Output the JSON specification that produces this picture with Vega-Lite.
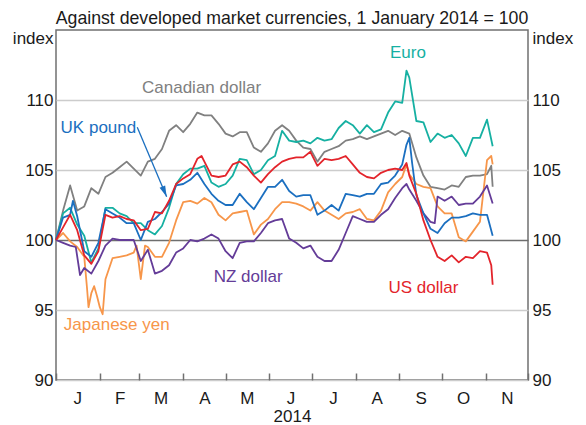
{
  "$schema": "https://vega.github.io/schema/vega-lite/v6.json",
  "width": 472,
  "height": 350,
  "autosize": {"type": "none"},
  "padding": {"left": 56, "top": 30, "right": 58, "bottom": 45},
  "background": "white",
  "title": {"text": "Against developed market currencies, 1 January 2014 = 100", "font": "Liberation Sans", "fontSize": 17.7, "fontWeight": "normal", "color": "#1a1a1a", "anchor": "middle", "frame": "group", "offset": 7, "dy": 19, "baseline": "alphabetic"},
  "config": {
    "view": {"stroke": "#707070", "strokeWidth": 1.5},
    "axis": {"labelFont": "Liberation Sans", "titleFont": "Liberation Sans", "labelFontSize": 17, "titleFontSize": 17, "labelColor": "#1a1a1a", "titleColor": "#1a1a1a", "titleFontWeight": "normal"},
    "text": {"font": "Liberation Sans"}
  },
  "datasets": {
    "fx": [
      {"s":"Canadian dollar","d":"2014/01/01","v":100.0},{"s":"Canadian dollar","d":"2014/01/06","v":102.1},{"s":"Canadian dollar","d":"2014/01/11","v":103.9},{"s":"Canadian dollar","d":"2014/01/16","v":102.1},{"s":"Canadian dollar","d":"2014/01/21","v":102.4},{"s":"Canadian dollar","d":"2014/01/26","v":103.7},{"s":"Canadian dollar","d":"2014/01/31","v":103.3},{"s":"Canadian dollar","d":"2014/02/05","v":104.5},{"s":"Canadian dollar","d":"2014/02/10","v":104.8},{"s":"Canadian dollar","d":"2014/02/15","v":105.2},{"s":"Canadian dollar","d":"2014/02/20","v":105.6},{"s":"Canadian dollar","d":"2014/02/25","v":105.1},{"s":"Canadian dollar","d":"2014/03/02","v":104.6},{"s":"Canadian dollar","d":"2014/03/07","v":105.6},{"s":"Canadian dollar","d":"2014/03/12","v":105.8},{"s":"Canadian dollar","d":"2014/03/17","v":106.5},{"s":"Canadian dollar","d":"2014/03/22","v":107.8},{"s":"Canadian dollar","d":"2014/03/27","v":108.2},{"s":"Canadian dollar","d":"2014/04/01","v":107.7},{"s":"Canadian dollar","d":"2014/04/06","v":108.3},{"s":"Canadian dollar","d":"2014/04/11","v":109.1},{"s":"Canadian dollar","d":"2014/04/16","v":108.9},{"s":"Canadian dollar","d":"2014/04/21","v":108.9},{"s":"Canadian dollar","d":"2014/04/26","v":108.3},{"s":"Canadian dollar","d":"2014/05/01","v":107.6},{"s":"Canadian dollar","d":"2014/05/06","v":107.4},{"s":"Canadian dollar","d":"2014/05/11","v":107.7},{"s":"Canadian dollar","d":"2014/05/16","v":107.7},{"s":"Canadian dollar","d":"2014/05/21","v":106.6},{"s":"Canadian dollar","d":"2014/05/26","v":106.3},{"s":"Canadian dollar","d":"2014/05/31","v":106.9},{"s":"Canadian dollar","d":"2014/06/05","v":107.8},{"s":"Canadian dollar","d":"2014/06/10","v":108.2},{"s":"Canadian dollar","d":"2014/06/15","v":107.8},{"s":"Canadian dollar","d":"2014/06/20","v":107.1},{"s":"Canadian dollar","d":"2014/06/25","v":106.6},{"s":"Canadian dollar","d":"2014/06/30","v":106.5},{"s":"Canadian dollar","d":"2014/07/05","v":105.6},{"s":"Canadian dollar","d":"2014/07/10","v":106.3},{"s":"Canadian dollar","d":"2014/07/15","v":106.5},{"s":"Canadian dollar","d":"2014/07/20","v":106.7},{"s":"Canadian dollar","d":"2014/07/25","v":107.1},{"s":"Canadian dollar","d":"2014/07/30","v":107.2},{"s":"Canadian dollar","d":"2014/08/04","v":107.4},{"s":"Canadian dollar","d":"2014/08/09","v":107.2},{"s":"Canadian dollar","d":"2014/08/14","v":107.4},{"s":"Canadian dollar","d":"2014/08/19","v":107.6},{"s":"Canadian dollar","d":"2014/08/24","v":107.8},{"s":"Canadian dollar","d":"2014/08/29","v":107.5},{"s":"Canadian dollar","d":"2014/09/03","v":107.8},{"s":"Canadian dollar","d":"2014/09/08","v":107.6},{"s":"Canadian dollar","d":"2014/09/13","v":105.9},{"s":"Canadian dollar","d":"2014/09/18","v":104.6},{"s":"Canadian dollar","d":"2014/09/23","v":103.8},{"s":"Canadian dollar","d":"2014/09/28","v":103.7},{"s":"Canadian dollar","d":"2014/10/03","v":103.6},{"s":"Canadian dollar","d":"2014/10/08","v":103.9},{"s":"Canadian dollar","d":"2014/10/13","v":103.8},{"s":"Canadian dollar","d":"2014/10/18","v":104.5},{"s":"Canadian dollar","d":"2014/10/23","v":104.6},{"s":"Canadian dollar","d":"2014/10/28","v":104.6},{"s":"Canadian dollar","d":"2014/11/02","v":104.7},{"s":"Canadian dollar","d":"2014/11/05","v":105.3},{"s":"Canadian dollar","d":"2014/11/06","v":103.8},
      {"s":"Euro","d":"2014/01/01","v":100.0},{"s":"Euro","d":"2014/01/06","v":101.9},{"s":"Euro","d":"2014/01/11","v":102.3},{"s":"Euro","d":"2014/01/16","v":101.1},{"s":"Euro","d":"2014/01/21","v":100.3},{"s":"Euro","d":"2014/01/26","v":98.4},{"s":"Euro","d":"2014/01/31","v":99.4},{"s":"Euro","d":"2014/02/05","v":102.3},{"s":"Euro","d":"2014/02/10","v":102.3},{"s":"Euro","d":"2014/02/15","v":101.9},{"s":"Euro","d":"2014/02/20","v":101.7},{"s":"Euro","d":"2014/02/25","v":101.2},{"s":"Euro","d":"2014/03/02","v":101.2},{"s":"Euro","d":"2014/03/07","v":100.7},{"s":"Euro","d":"2014/03/12","v":100.4},{"s":"Euro","d":"2014/03/17","v":101.0},{"s":"Euro","d":"2014/03/22","v":102.3},{"s":"Euro","d":"2014/03/27","v":104.0},{"s":"Euro","d":"2014/04/01","v":104.7},{"s":"Euro","d":"2014/04/06","v":105.1},{"s":"Euro","d":"2014/04/11","v":105.1},{"s":"Euro","d":"2014/04/16","v":105.3},{"s":"Euro","d":"2014/04/21","v":104.1},{"s":"Euro","d":"2014/04/26","v":103.8},{"s":"Euro","d":"2014/05/01","v":104.0},{"s":"Euro","d":"2014/05/06","v":104.6},{"s":"Euro","d":"2014/05/11","v":105.8},{"s":"Euro","d":"2014/05/16","v":105.7},{"s":"Euro","d":"2014/05/21","v":104.7},{"s":"Euro","d":"2014/05/26","v":105.0},{"s":"Euro","d":"2014/05/31","v":105.7},{"s":"Euro","d":"2014/06/05","v":106.0},{"s":"Euro","d":"2014/06/10","v":107.8},{"s":"Euro","d":"2014/06/15","v":107.1},{"s":"Euro","d":"2014/06/20","v":107.0},{"s":"Euro","d":"2014/06/25","v":107.1},{"s":"Euro","d":"2014/06/30","v":106.9},{"s":"Euro","d":"2014/07/05","v":107.3},{"s":"Euro","d":"2014/07/10","v":107.1},{"s":"Euro","d":"2014/07/15","v":107.2},{"s":"Euro","d":"2014/07/20","v":108.0},{"s":"Euro","d":"2014/07/25","v":108.5},{"s":"Euro","d":"2014/07/30","v":108.2},{"s":"Euro","d":"2014/08/04","v":107.6},{"s":"Euro","d":"2014/08/09","v":108.2},{"s":"Euro","d":"2014/08/14","v":107.7},{"s":"Euro","d":"2014/08/19","v":107.9},{"s":"Euro","d":"2014/08/24","v":109.1},{"s":"Euro","d":"2014/08/29","v":109.9},{"s":"Euro","d":"2014/09/03","v":109.8},{"s":"Euro","d":"2014/09/06","v":112.1},{"s":"Euro","d":"2014/09/08","v":111.6},{"s":"Euro","d":"2014/09/13","v":108.5},{"s":"Euro","d":"2014/09/18","v":108.4},{"s":"Euro","d":"2014/09/23","v":107.0},{"s":"Euro","d":"2014/09/28","v":107.6},{"s":"Euro","d":"2014/10/03","v":107.3},{"s":"Euro","d":"2014/10/08","v":107.5},{"s":"Euro","d":"2014/10/13","v":106.9},{"s":"Euro","d":"2014/10/18","v":106.0},{"s":"Euro","d":"2014/10/23","v":107.3},{"s":"Euro","d":"2014/10/28","v":107.3},{"s":"Euro","d":"2014/11/02","v":108.6},{"s":"Euro","d":"2014/11/06","v":106.7},
      {"s":"Japanese yen","d":"2014/01/01","v":100.0},{"s":"Japanese yen","d":"2014/01/06","v":100.5},{"s":"Japanese yen","d":"2014/01/11","v":99.9},{"s":"Japanese yen","d":"2014/01/16","v":99.5},{"s":"Japanese yen","d":"2014/01/21","v":98.8},{"s":"Japanese yen","d":"2014/01/23","v":96.5},{"s":"Japanese yen","d":"2014/01/24","v":95.2},{"s":"Japanese yen","d":"2014/01/26","v":96.2},{"s":"Japanese yen","d":"2014/01/28","v":96.7},{"s":"Japanese yen","d":"2014/01/30","v":96.0},{"s":"Japanese yen","d":"2014/02/01","v":95.2},{"s":"Japanese yen","d":"2014/02/03","v":94.7},{"s":"Japanese yen","d":"2014/02/05","v":97.2},{"s":"Japanese yen","d":"2014/02/10","v":98.7},{"s":"Japanese yen","d":"2014/02/15","v":98.8},{"s":"Japanese yen","d":"2014/02/20","v":98.9},{"s":"Japanese yen","d":"2014/02/25","v":99.1},{"s":"Japanese yen","d":"2014/02/27","v":99.6},{"s":"Japanese yen","d":"2014/03/02","v":97.2},{"s":"Japanese yen","d":"2014/03/05","v":99.6},{"s":"Japanese yen","d":"2014/03/07","v":99.5},{"s":"Japanese yen","d":"2014/03/12","v":98.8},{"s":"Japanese yen","d":"2014/03/17","v":98.8},{"s":"Japanese yen","d":"2014/03/22","v":99.8},{"s":"Japanese yen","d":"2014/03/27","v":101.4},{"s":"Japanese yen","d":"2014/04/01","v":102.7},{"s":"Japanese yen","d":"2014/04/06","v":102.8},{"s":"Japanese yen","d":"2014/04/11","v":102.6},{"s":"Japanese yen","d":"2014/04/16","v":103.0},{"s":"Japanese yen","d":"2014/04/21","v":102.7},{"s":"Japanese yen","d":"2014/04/26","v":101.8},{"s":"Japanese yen","d":"2014/05/01","v":101.4},{"s":"Japanese yen","d":"2014/05/06","v":101.9},{"s":"Japanese yen","d":"2014/05/11","v":102.0},{"s":"Japanese yen","d":"2014/05/16","v":102.1},{"s":"Japanese yen","d":"2014/05/21","v":100.4},{"s":"Japanese yen","d":"2014/05/26","v":101.1},{"s":"Japanese yen","d":"2014/05/31","v":101.5},{"s":"Japanese yen","d":"2014/06/05","v":102.2},{"s":"Japanese yen","d":"2014/06/10","v":102.7},{"s":"Japanese yen","d":"2014/06/15","v":102.7},{"s":"Japanese yen","d":"2014/06/20","v":102.6},{"s":"Japanese yen","d":"2014/06/25","v":102.4},{"s":"Japanese yen","d":"2014/06/30","v":102.1},{"s":"Japanese yen","d":"2014/07/05","v":102.7},{"s":"Japanese yen","d":"2014/07/10","v":102.1},{"s":"Japanese yen","d":"2014/07/15","v":101.8},{"s":"Japanese yen","d":"2014/07/20","v":101.5},{"s":"Japanese yen","d":"2014/07/25","v":101.9},{"s":"Japanese yen","d":"2014/07/30","v":102.0},{"s":"Japanese yen","d":"2014/08/04","v":102.2},{"s":"Japanese yen","d":"2014/08/09","v":101.5},{"s":"Japanese yen","d":"2014/08/14","v":101.4},{"s":"Japanese yen","d":"2014/08/19","v":102.1},{"s":"Japanese yen","d":"2014/08/24","v":103.4},{"s":"Japanese yen","d":"2014/08/29","v":104.0},{"s":"Japanese yen","d":"2014/09/03","v":104.5},{"s":"Japanese yen","d":"2014/09/06","v":105.4},{"s":"Japanese yen","d":"2014/09/08","v":104.7},{"s":"Japanese yen","d":"2014/09/13","v":104.0},{"s":"Japanese yen","d":"2014/09/18","v":103.8},{"s":"Japanese yen","d":"2014/09/23","v":103.7},{"s":"Japanese yen","d":"2014/09/28","v":102.4},{"s":"Japanese yen","d":"2014/10/03","v":101.9},{"s":"Japanese yen","d":"2014/10/08","v":101.9},{"s":"Japanese yen","d":"2014/10/13","v":100.2},{"s":"Japanese yen","d":"2014/10/18","v":99.9},{"s":"Japanese yen","d":"2014/10/23","v":100.6},{"s":"Japanese yen","d":"2014/10/28","v":101.3},{"s":"Japanese yen","d":"2014/11/02","v":105.7},{"s":"Japanese yen","d":"2014/11/05","v":106.0},{"s":"Japanese yen","d":"2014/11/06","v":105.4},
      {"s":"NZ dollar","d":"2014/01/01","v":100.0},{"s":"NZ dollar","d":"2014/01/06","v":99.8},{"s":"NZ dollar","d":"2014/01/11","v":99.6},{"s":"NZ dollar","d":"2014/01/15","v":99.5},{"s":"NZ dollar","d":"2014/01/18","v":97.5},{"s":"NZ dollar","d":"2014/01/21","v":98.0},{"s":"NZ dollar","d":"2014/01/26","v":97.6},{"s":"NZ dollar","d":"2014/01/31","v":98.5},{"s":"NZ dollar","d":"2014/02/05","v":99.6},{"s":"NZ dollar","d":"2014/02/10","v":100.1},{"s":"NZ dollar","d":"2014/02/15","v":100.0},{"s":"NZ dollar","d":"2014/02/20","v":100.0},{"s":"NZ dollar","d":"2014/02/25","v":100.0},{"s":"NZ dollar","d":"2014/03/02","v":98.5},{"s":"NZ dollar","d":"2014/03/07","v":99.3},{"s":"NZ dollar","d":"2014/03/12","v":97.6},{"s":"NZ dollar","d":"2014/03/17","v":97.8},{"s":"NZ dollar","d":"2014/03/22","v":98.2},{"s":"NZ dollar","d":"2014/03/27","v":99.1},{"s":"NZ dollar","d":"2014/04/01","v":99.4},{"s":"NZ dollar","d":"2014/04/06","v":100.0},{"s":"NZ dollar","d":"2014/04/11","v":99.9},{"s":"NZ dollar","d":"2014/04/16","v":100.1},{"s":"NZ dollar","d":"2014/04/21","v":100.4},{"s":"NZ dollar","d":"2014/04/26","v":100.1},{"s":"NZ dollar","d":"2014/05/01","v":99.2},{"s":"NZ dollar","d":"2014/05/06","v":98.7},{"s":"NZ dollar","d":"2014/05/11","v":99.8},{"s":"NZ dollar","d":"2014/05/16","v":99.9},{"s":"NZ dollar","d":"2014/05/21","v":99.9},{"s":"NZ dollar","d":"2014/05/26","v":100.5},{"s":"NZ dollar","d":"2014/05/31","v":101.2},{"s":"NZ dollar","d":"2014/06/05","v":101.4},{"s":"NZ dollar","d":"2014/06/10","v":101.5},{"s":"NZ dollar","d":"2014/06/15","v":100.1},{"s":"NZ dollar","d":"2014/06/20","v":99.8},{"s":"NZ dollar","d":"2014/06/25","v":99.4},{"s":"NZ dollar","d":"2014/06/30","v":99.6},{"s":"NZ dollar","d":"2014/07/05","v":98.8},{"s":"NZ dollar","d":"2014/07/10","v":98.5},{"s":"NZ dollar","d":"2014/07/15","v":98.5},{"s":"NZ dollar","d":"2014/07/20","v":99.3},{"s":"NZ dollar","d":"2014/07/25","v":100.5},{"s":"NZ dollar","d":"2014/07/30","v":101.7},{"s":"NZ dollar","d":"2014/08/04","v":101.5},{"s":"NZ dollar","d":"2014/08/09","v":101.3},{"s":"NZ dollar","d":"2014/08/14","v":101.3},{"s":"NZ dollar","d":"2014/08/19","v":101.8},{"s":"NZ dollar","d":"2014/08/24","v":102.2},{"s":"NZ dollar","d":"2014/08/29","v":103.0},{"s":"NZ dollar","d":"2014/09/03","v":103.7},{"s":"NZ dollar","d":"2014/09/06","v":104.0},{"s":"NZ dollar","d":"2014/09/08","v":103.6},{"s":"NZ dollar","d":"2014/09/13","v":102.8},{"s":"NZ dollar","d":"2014/09/18","v":101.9},{"s":"NZ dollar","d":"2014/09/23","v":101.3},{"s":"NZ dollar","d":"2014/09/26","v":101.2},{"s":"NZ dollar","d":"2014/09/28","v":103.1},{"s":"NZ dollar","d":"2014/10/03","v":102.8},{"s":"NZ dollar","d":"2014/10/08","v":103.1},{"s":"NZ dollar","d":"2014/10/13","v":102.5},{"s":"NZ dollar","d":"2014/10/18","v":102.6},{"s":"NZ dollar","d":"2014/10/23","v":102.6},{"s":"NZ dollar","d":"2014/10/28","v":103.1},{"s":"NZ dollar","d":"2014/11/02","v":103.9},{"s":"NZ dollar","d":"2014/11/06","v":102.6},
      {"s":"UK pound","d":"2014/01/01","v":100.0},{"s":"UK pound","d":"2014/01/06","v":101.6},{"s":"UK pound","d":"2014/01/11","v":101.8},{"s":"UK pound","d":"2014/01/13","v":102.8},{"s":"UK pound","d":"2014/01/16","v":101.7},{"s":"UK pound","d":"2014/01/21","v":99.2},{"s":"UK pound","d":"2014/01/26","v":98.8},{"s":"UK pound","d":"2014/01/31","v":99.8},{"s":"UK pound","d":"2014/02/05","v":102.2},{"s":"UK pound","d":"2014/02/10","v":101.9},{"s":"UK pound","d":"2014/02/15","v":101.6},{"s":"UK pound","d":"2014/02/20","v":101.2},{"s":"UK pound","d":"2014/02/25","v":101.2},{"s":"UK pound","d":"2014/03/02","v":100.0},{"s":"UK pound","d":"2014/03/07","v":101.3},{"s":"UK pound","d":"2014/03/12","v":101.5},{"s":"UK pound","d":"2014/03/17","v":102.0},{"s":"UK pound","d":"2014/03/22","v":102.6},{"s":"UK pound","d":"2014/03/27","v":103.9},{"s":"UK pound","d":"2014/04/01","v":104.0},{"s":"UK pound","d":"2014/04/06","v":104.3},{"s":"UK pound","d":"2014/04/11","v":104.8},{"s":"UK pound","d":"2014/04/16","v":104.0},{"s":"UK pound","d":"2014/04/21","v":103.3},{"s":"UK pound","d":"2014/04/26","v":102.8},{"s":"UK pound","d":"2014/05/01","v":102.5},{"s":"UK pound","d":"2014/05/06","v":102.5},{"s":"UK pound","d":"2014/05/11","v":103.3},{"s":"UK pound","d":"2014/05/16","v":102.7},{"s":"UK pound","d":"2014/05/21","v":102.2},{"s":"UK pound","d":"2014/05/26","v":103.0},{"s":"UK pound","d":"2014/05/31","v":103.8},{"s":"UK pound","d":"2014/06/05","v":103.8},{"s":"UK pound","d":"2014/06/10","v":104.3},{"s":"UK pound","d":"2014/06/15","v":103.5},{"s":"UK pound","d":"2014/06/20","v":103.1},{"s":"UK pound","d":"2014/06/25","v":103.2},{"s":"UK pound","d":"2014/06/30","v":103.2},{"s":"UK pound","d":"2014/07/05","v":101.8},{"s":"UK pound","d":"2014/07/10","v":102.1},{"s":"UK pound","d":"2014/07/15","v":102.5},{"s":"UK pound","d":"2014/07/20","v":102.1},{"s":"UK pound","d":"2014/07/25","v":103.3},{"s":"UK pound","d":"2014/07/30","v":103.2},{"s":"UK pound","d":"2014/08/04","v":103.1},{"s":"UK pound","d":"2014/08/09","v":103.3},{"s":"UK pound","d":"2014/08/14","v":103.3},{"s":"UK pound","d":"2014/08/19","v":104.0},{"s":"UK pound","d":"2014/08/24","v":104.1},{"s":"UK pound","d":"2014/08/29","v":104.6},{"s":"UK pound","d":"2014/09/03","v":105.4},{"s":"UK pound","d":"2014/09/06","v":106.8},{"s":"UK pound","d":"2014/09/08","v":107.3},{"s":"UK pound","d":"2014/09/10","v":105.5},{"s":"UK pound","d":"2014/09/13","v":103.2},{"s":"UK pound","d":"2014/09/18","v":101.9},{"s":"UK pound","d":"2014/09/23","v":100.8},{"s":"UK pound","d":"2014/09/28","v":100.5},{"s":"UK pound","d":"2014/10/03","v":101.2},{"s":"UK pound","d":"2014/10/08","v":101.6},{"s":"UK pound","d":"2014/10/13","v":101.6},{"s":"UK pound","d":"2014/10/18","v":101.7},{"s":"UK pound","d":"2014/10/23","v":101.9},{"s":"UK pound","d":"2014/10/28","v":101.8},{"s":"UK pound","d":"2014/11/02","v":101.8},{"s":"UK pound","d":"2014/11/06","v":100.3},
      {"s":"US dollar","d":"2014/01/01","v":100.0},{"s":"US dollar","d":"2014/01/06","v":100.9},{"s":"US dollar","d":"2014/01/11","v":101.8},{"s":"US dollar","d":"2014/01/16","v":100.7},{"s":"US dollar","d":"2014/01/21","v":98.9},{"s":"US dollar","d":"2014/01/26","v":98.3},{"s":"US dollar","d":"2014/01/31","v":99.2},{"s":"US dollar","d":"2014/02/05","v":101.8},{"s":"US dollar","d":"2014/02/10","v":101.6},{"s":"US dollar","d":"2014/02/15","v":101.7},{"s":"US dollar","d":"2014/02/20","v":101.5},{"s":"US dollar","d":"2014/02/25","v":101.4},{"s":"US dollar","d":"2014/03/02","v":100.7},{"s":"US dollar","d":"2014/03/07","v":100.8},{"s":"US dollar","d":"2014/03/12","v":102.0},{"s":"US dollar","d":"2014/03/17","v":101.9},{"s":"US dollar","d":"2014/03/22","v":102.8},{"s":"US dollar","d":"2014/03/27","v":104.0},{"s":"US dollar","d":"2014/04/01","v":104.4},{"s":"US dollar","d":"2014/04/06","v":104.7},{"s":"US dollar","d":"2014/04/11","v":105.8},{"s":"US dollar","d":"2014/04/14","v":106.0},{"s":"US dollar","d":"2014/04/16","v":105.6},{"s":"US dollar","d":"2014/04/21","v":104.6},{"s":"US dollar","d":"2014/04/26","v":104.5},{"s":"US dollar","d":"2014/05/01","v":104.6},{"s":"US dollar","d":"2014/05/06","v":105.4},{"s":"US dollar","d":"2014/05/11","v":105.6},{"s":"US dollar","d":"2014/05/16","v":105.2},{"s":"US dollar","d":"2014/05/21","v":104.6},{"s":"US dollar","d":"2014/05/26","v":104.1},{"s":"US dollar","d":"2014/05/31","v":104.7},{"s":"US dollar","d":"2014/06/05","v":105.2},{"s":"US dollar","d":"2014/06/10","v":105.6},{"s":"US dollar","d":"2014/06/15","v":105.8},{"s":"US dollar","d":"2014/06/20","v":105.9},{"s":"US dollar","d":"2014/06/25","v":105.9},{"s":"US dollar","d":"2014/06/30","v":106.3},{"s":"US dollar","d":"2014/07/05","v":105.3},{"s":"US dollar","d":"2014/07/10","v":105.8},{"s":"US dollar","d":"2014/07/15","v":105.7},{"s":"US dollar","d":"2014/07/20","v":105.8},{"s":"US dollar","d":"2014/07/25","v":106.0},{"s":"US dollar","d":"2014/07/30","v":105.4},{"s":"US dollar","d":"2014/08/04","v":104.8},{"s":"US dollar","d":"2014/08/09","v":104.5},{"s":"US dollar","d":"2014/08/14","v":104.4},{"s":"US dollar","d":"2014/08/19","v":104.8},{"s":"US dollar","d":"2014/08/24","v":105.0},{"s":"US dollar","d":"2014/08/29","v":105.1},{"s":"US dollar","d":"2014/09/03","v":105.0},{"s":"US dollar","d":"2014/09/06","v":105.5},{"s":"US dollar","d":"2014/09/08","v":104.6},{"s":"US dollar","d":"2014/09/13","v":103.3},{"s":"US dollar","d":"2014/09/18","v":101.4},{"s":"US dollar","d":"2014/09/23","v":100.0},{"s":"US dollar","d":"2014/09/28","v":98.8},{"s":"US dollar","d":"2014/10/03","v":98.5},{"s":"US dollar","d":"2014/10/08","v":98.9},{"s":"US dollar","d":"2014/10/13","v":98.4},{"s":"US dollar","d":"2014/10/18","v":98.8},{"s":"US dollar","d":"2014/10/23","v":98.7},{"s":"US dollar","d":"2014/10/28","v":99.2},{"s":"US dollar","d":"2014/11/02","v":99.1},{"s":"US dollar","d":"2014/11/05","v":98.2},{"s":"US dollar","d":"2014/11/06","v":96.8}
    ],
    "labels": [
      {"s":"Canadian dollar","d":"2014/04/14","v":110.48},
      {"s":"Euro","d":"2014/09/07","v":112.98},
      {"s":"UK pound","d":"2014/01/31","v":107.64},
      {"s":"NZ dollar","d":"2014/05/17","v":97.02},
      {"s":"US dollar","d":"2014/09/18","v":96.19},
      {"s":"Japanese yen","d":"2014/02/13","v":93.54}
    ],
    "arrow": [
      {"d1":"2014/02/27 12:00","v1":108.05,"d2":"2014/03/20 07:00","v2":103.09}
    ],
    "arrowhead": [
      {"d":"2014/03/18 19:00","v":103.45}
    ]
  },
  "layer": [
    {
      "data": {"name": "fx"},
      "mark": {"type": "line", "strokeWidth": 1.8, "strokeJoin": "round"},
      "encoding": {
        "x": {"field": "d", "type": "temporal",
          "scale": {"domain": [{"year":2014,"month":1,"date":1},{"year":2014,"month":12,"date":1}], "nice": false},
          "axis": {"orient": "bottom", "values": [{"year":2014,"month":1,"date":1},{"year":2014,"month":2,"date":1},{"year":2014,"month":3,"date":1},{"year":2014,"month":4,"date":1},{"year":2014,"month":5,"date":1},{"year":2014,"month":6,"date":1},{"year":2014,"month":7,"date":1},{"year":2014,"month":8,"date":1},{"year":2014,"month":9,"date":1},{"year":2014,"month":10,"date":1},{"year":2014,"month":11,"date":1},{"year":2014,"month":12,"date":1}],
            "labels": false, "domain": false, "grid": false, "ticks": true, "tickSize": -7, "tickColor": "#707070", "tickWidth": 1.5, "title": null}},
        "y": {"field": "v", "type": "quantitative",
          "scale": {"domain": [90, 115], "nice": false, "zero": false},
          "axis": {"orient": "left", "values": [90, 95, 100, 105, 110], "domain": false, "ticks": false, "labelPadding": 3,
            "grid": true, "gridWidth": 1.5, "gridColor": {"condition": {"test": "datum.value === 100", "value": "#6e6e6e"}, "value": "#cccccc"},
            "title": "index", "titleAngle": 0, "titleAlign": "right", "titleBaseline": "alphabetic", "titleX": -3, "titleY": 13.5}},
        "color": {"field": "s", "type": "nominal", "legend": null,
          "scale": {"domain": ["Canadian dollar", "Euro", "Japanese yen", "NZ dollar", "UK pound", "US dollar"],
                    "range": ["#808080", "#16b0a2", "#f7964a", "#643c98", "#1b6fc0", "#e3242b"]}}
      }
    },
    {
      "data": {"name": "labels"},
      "mark": {"type": "text", "fontSize": 17, "baseline": "alphabetic", "align": "center"},
      "encoding": {
        "x": {"field": "d", "type": "temporal",
          "scale": {"domain": [{"year":2014,"month":1,"date":1},{"year":2014,"month":12,"date":1}], "nice": false},
          "axis": {"orient": "bottom", "values": [{"year":2014,"month":1,"date":16},{"year":2014,"month":2,"date":15},{"year":2014,"month":3,"date":16},{"year":2014,"month":4,"date":16},{"year":2014,"month":5,"date":16},{"year":2014,"month":6,"date":16},{"year":2014,"month":7,"date":16},{"year":2014,"month":8,"date":16},{"year":2014,"month":9,"date":16},{"year":2014,"month":10,"date":16},{"year":2014,"month":11,"date":16}],
            "labelExpr": "substring(timeFormat(datum.value, '%b'), 0, 1)", "ticks": false, "tickSize": 0, "domain": false, "grid": false,
            "labelBaseline": "alphabetic", "labelPadding": 23, "labelAlign": "center",
            "title": "2014", "titleBaseline": "alphabetic", "titleY": 41}},
        "y": {"field": "v", "type": "quantitative",
          "scale": {"domain": [90, 115], "nice": false, "zero": false},
          "axis": {"orient": "right", "values": [90, 95, 100, 105, 110], "domain": false, "ticks": false, "grid": false, "labelPadding": 4,
            "title": "index", "titleAngle": 0, "titleAlign": "left", "titleBaseline": "alphabetic", "titleX": 4, "titleY": 13.5}},
        "text": {"field": "s"},
        "color": {"field": "s", "type": "nominal", "legend": null}
      }
    },
    {
      "data": {"name": "arrow"},
      "mark": {"type": "rule", "color": "#1b6fc0", "strokeWidth": 1.3},
      "encoding": {
        "x": {"field": "d1", "type": "temporal", "axis": null},
        "y": {"field": "v1", "type": "quantitative", "axis": null},
        "x2": {"field": "d2"},
        "y2": {"field": "v2"}
      }
    },
    {
      "data": {"name": "arrowhead"},
      "mark": {"type": "point", "shape": "M0,-1L0.55,1L-0.55,1Z", "size": 121, "angle": 157, "filled": true, "opacity": 1, "color": "#1b6fc0"},
      "encoding": {
        "x": {"field": "d", "type": "temporal", "axis": null},
        "y": {"field": "v", "type": "quantitative", "axis": null}
      }
    }
  ],
  "resolve": {"axis": {"x": "independent", "y": "independent"}}
}
